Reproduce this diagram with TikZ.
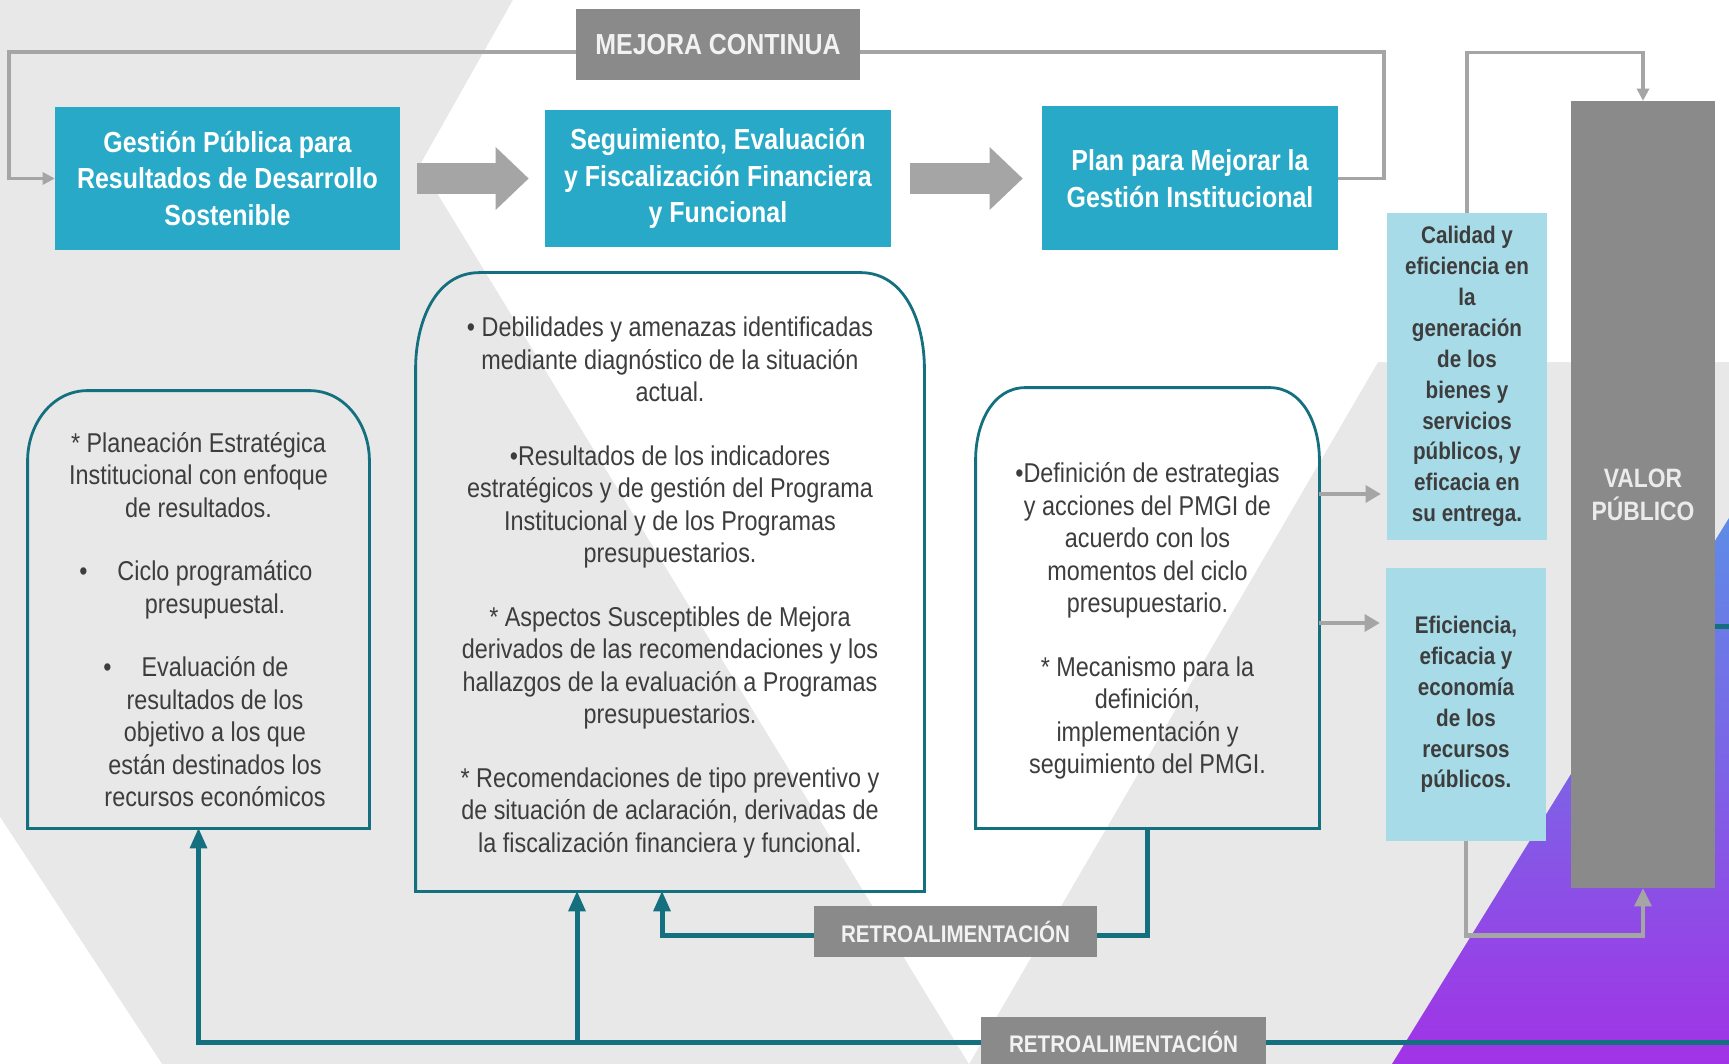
\documentclass[tikz,border=0pt]{standalone}
\usepackage{fontspec}
\setmainfont{Liberation Sans}[FakeStretch=0.86]
\usetikzlibrary{arrows.meta, calc}

\definecolor{tealbox}{HTML}{27A9C7}
\definecolor{skyfill}{HTML}{A7DBE8}
\definecolor{labelgray}{HTML}{8A8A8A}
\definecolor{linegray}{HTML}{A5A5A5}
\definecolor{tealline}{HTML}{14707F}
\definecolor{bggray}{HTML}{E8E8E8}
\definecolor{textgray}{HTML}{3D3D3D}
\definecolor{violeta}{HTML}{A133E6}
\definecolor{violetb}{HTML}{5E8CE6}

\tikzset{
  titlebox/.style={fill=tealbox, text=white, align=center, inner sep=0pt,
    font=\fontsize{14.5}{18.2}\selectfont\bfseries},
  resultbox/.style={fill=skyfill, text=textgray, align=center, inner sep=0pt,
    font=\fontsize{12}{15.45}\selectfont\bfseries},
  valorbox/.style={fill=labelgray, text=white!92!black, align=center, inner sep=0pt,
    font=\fontsize{13.3}{16.5}\selectfont\bfseries},
  labelbox/.style={fill=labelgray, text=white!95!black, inner sep=0pt,
    font=\fontsize{12}{14}\selectfont\bfseries},
  bubbletext/.style={text=textgray, align=center, inner sep=0pt,
    font=\fontsize{13.6}{16.25}\selectfont},
  bubble/.style={draw=tealline, line width=1.4pt},
  blockarrow/.style={draw=linegray, line width=15.5pt,
    -{Triangle[length=16.5pt,width=31.5pt,line width=0pt]}},
  grayline/.style={draw=linegray, line width=1.7pt,
    -{Triangle[length=6pt,width=6.5pt,line width=0pt]}},
  shortarrow/.style={draw=linegray, line width=2.3pt, shorten >=3pt,
    -{Triangle[length=7.5pt,width=9pt,line width=0pt]}},
  retro/.style={draw=tealline, line width=2.5pt,
    -{Triangle[length=10pt,width=9pt,line width=0pt]}},
}

\begin{document}
\begin{tikzpicture}[x=0.5pt, y=-0.5pt]
  \useasboundingbox (0,0) rectangle (1729,1064);
  \clip (0,0) rectangle (1729,1064);

  % fondo
  \fill[bggray] (0,0) rectangle (1729,1064);
  \fill[white] (513,0) -- (1729,0) -- (1729,362) -- (1378,362) -- (969,1064) -- (420,165) -- cycle;
  \fill[white] (0,817) -- (162,1064) -- (0,1064) -- cycle;
  \shade[top color=violetb, bottom color=violeta] (1392,1064) -- (1729,518) -- (1729,1064) -- cycle;

  % cajas superiores
  \node[titlebox, minimum width=172.5pt, minimum height=71.5pt] (gestion) at (227.5,178.5)
    {Gestión Pública para\\Resultados de Desarrollo\\Sostenible};
  \node[titlebox, minimum width=173pt, minimum height=68.5pt] (seguimiento) at (718,178.5)
    {Seguimiento, Evaluación\\y Fiscalización Financiera\\y Funcional};
  \node[titlebox, minimum width=148pt, minimum height=72pt] (plan) at (1190,178.5)
    {Plan para Mejorar la\\Gestión Institucional};

  % resultados y valor publico
  \node[resultbox, minimum width=80pt, minimum height=163.5pt] (calidad) at (1467,376.5)
    {Calidad y\\eficiencia en\\la\\generación\\de los\\bienes y\\servicios\\públicos, y\\eficacia en\\su entrega.};
  \node[resultbox, minimum width=80pt, minimum height=136.5pt] (eficiencia) at (1466,704.5)
    {Eficiencia,\\eficacia y\\economía\\de los\\recursos\\públicos.};
  \node[valorbox, minimum width=72pt, minimum height=393.5pt] (valor) at (1643,494.5)
    {VALOR\\PÚBLICO};

  % globos de texto
  \node[bubbletext, minimum width=170.5pt, minimum height=218.5pt] (plane) at (198.5,609.5)
    {\rule{0pt}{20pt}* Planeación Estratégica\\
     Institucional con enfoque\\
     de resultados.\\[15.5pt]
     \hspace*{16.5pt}\llap{•\hspace{15pt}}Ciclo programático\\
     \hspace*{16.5pt}presupuestal.\\[15.5pt]
     \hspace*{16.5pt}\llap{•\hspace{15pt}}Evaluación de\\
     \hspace*{16.5pt}resultados de los\\
     \hspace*{16.5pt}objetivo a los que\\
     \hspace*{16.5pt}están destinados los\\
     \hspace*{16.5pt}recursos económicos};
  \node[bubbletext, minimum width=254pt, minimum height=309pt] (insumos) at (670,582)
    {\rule{0pt}{15.5pt}• Debilidades y amenazas identificadas\\
     mediante diagnóstico de la situación\\
     actual.\\[15.5pt]
     •Resultados de los indicadores\\
     estratégicos y de gestión del Programa\\
     Institucional y de los Programas\\
     presupuestarios.\\[15.5pt]
     * Aspectos Susceptibles de Mejora\\
     derivados de las recomendaciones y los\\
     hallazgos de la evaluación a Programas\\
     presupuestarios.\\[15.5pt]
     * Recomendaciones de tipo preventivo y\\
     de situación de aclaración, derivadas de\\
     la fiscalización financiera y funcional.};
  \node[bubbletext, minimum width=171.5pt, minimum height=220pt] (pmgi) at (1147.5,608)
    {\rule{0pt}{23pt}•Definición de estrategias\\
     y acciones del PMGI de\\
     acuerdo con los\\
     momentos del ciclo\\
     presupuestario.\\[15.5pt]
     * Mecanismo para la\\
     definición,\\
     implementación y\\
     seguimiento del PMGI.};

  \foreach \b/\rx/\ry in {plane/30/35, insumos/32/48, pmgi/25/36}
    \draw[bubble] (\b.south west) -- ([yshift=-\ry pt]\b.north west)
      to[out=90,in=180] ([xshift=\rx pt]\b.north west)
      -- ([xshift=-\rx pt]\b.north east)
      to[out=0,in=90] ([yshift=-\ry pt]\b.north east)
      -- (\b.south east) -- cycle;

  % flechas grandes
  \draw[blockarrow, shorten <=8.5pt, shorten >=8pt] (gestion) -- (seguimiento);
  \draw[blockarrow, shorten <=9.5pt, shorten >=9.5pt] (seguimiento) -- (plan);

  % mejora continua
  \draw[grayline] (plan.east) -| (1384,52) -- (9,52) |- (gestion.west);

  % hacia valor publico
  \draw[grayline] (calidad.north) -- ++(0,-160) -| (valor.north);
  \draw[grayline, line width=2.4pt, -{Triangle[length=9pt,width=9pt,line width=0pt]}]
    (eficiencia.south) -- ++(0,94) -| (valor.south);
  \draw[shortarrow] (pmgi.east |- 0,494) -- (calidad.west |- 0,494);
  \draw[shortarrow] (pmgi.east |- 0,623) -- (eficiencia.west |- 0,623);

  % retroalimentacion
  \coordinate (retroin) at (1729,1042);
  \coordinate (valorout) at (1729,626);
  \draw[retro] (pmgi.south) |- (662,935) -- (insumos.south -| 662,0);
  \draw[retro] (retroin) -| (plane.south);
  \draw[retro] (retroin -| 577,0) -- (insumos.south -| 577,0);
  \draw[draw=tealline, line width=2.5pt] (valor.east |- valorout) -- (valorout);

  % etiquetas
  \node[labelbox, minimum width=142pt, minimum height=35.5pt, font=\fontsize{14.5}{16}\selectfont\bfseries]
    (mejora) at (718,44.5) {MEJORA CONTINUA};
  \node[labelbox, minimum width=141.5pt, minimum height=25.5pt] (retrouno) at (955.5,931.5)
    {RETROALIMENTACIÓN};
  \node[labelbox, minimum width=142.5pt, minimum height=25pt] (retrodos) at (1123.5,1042)
    {RETROALIMENTACIÓN};
\end{tikzpicture}
\end{document}
